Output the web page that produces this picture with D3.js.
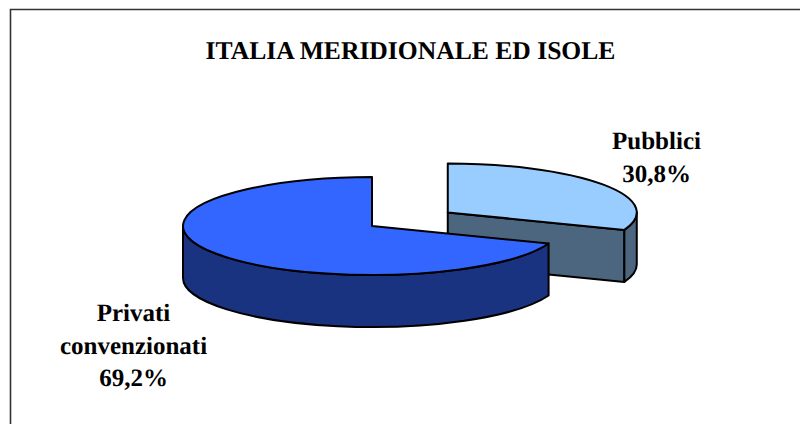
<!DOCTYPE html>
<html><head><meta charset="utf-8">
<script src="https://cdn.jsdelivr.net/npm/d3@7/dist/d3.min.js"></script>
<style>html,body{margin:0;padding:0;background:#fff;overflow:hidden}svg{display:block}</style>
</head><body><svg id="c" width="800" height="424"></svg>
<script>
const titleText = "ITALIA MERIDIONALE ED ISOLE";
const categories = ["Pubblici", "Privati convenzionati"];
const values = [30.8, 69.2];
const topColors = ["#99ccff", "#3366ff"];
const sideColors = ["#4d6680", "#1a3380"];
const labelLines = [["Pubblici", "30,8%"], ["Privati", "convenzionati", "69,2%"]];

const svg = d3.select("#c");
const cx = 372, cy = 226, rx = 189, ry = 49, depth = 52, explode = 92;
const outline = "#000", sw = 2;
const font = "'Liberation Serif','Times New Roman',serif";

svg.append("path").attr("d", "M10.5,424V9.5H800").attr("fill","none").attr("stroke","#333").attr("stroke-width",1.6);

const pie = d3.pie().sort(null).value(d => d);
const arcs = pie(values);

function pt(a, c) { return [c[0] + rx * Math.sin(a), c[1] - ry * Math.cos(a)]; }
function center(d, i) {
  if (i !== 0) return [cx, cy];
  const m = (d.startAngle + d.endAngle) / 2;
  return [cx + explode * Math.sin(m), cy - explode * (ry / rx) * Math.cos(m)];
}
function topPath(d, c) {
  const s = pt(d.startAngle, c), e = pt(d.endAngle, c);
  const large = d.endAngle - d.startAngle > Math.PI ? 1 : 0;
  return `M${c[0]},${c[1]}L${s[0]},${s[1]}A${rx},${ry} 0 ${large} 1 ${e[0]},${e[1]}Z`;
}
function rimPath(a0, a1, c) {
  const s = pt(a0, c), e = pt(a1, c);
  const large = a1 - a0 > Math.PI ? 1 : 0;
  return `M${s[0]},${s[1]}A${rx},${ry} 0 ${large} 1 ${e[0]},${e[1]}L${e[0]},${e[1]+depth}A${rx},${ry} 0 ${large} 0 ${s[0]},${s[1]+depth}Z`;
}
function wallPath(a, c) {
  const e = pt(a, c);
  return `M${c[0]},${c[1]}L${e[0]},${e[1]}L${e[0]},${e[1]+depth}L${c[0]},${c[1]+depth}Z`;
}
const style = (s, fill) => s.attr("fill", fill).attr("stroke", outline).attr("stroke-width", sw).attr("stroke-linejoin","round");

{
  const d = arcs[0], c = center(d, 0);
  style(svg.append("path").attr("d", wallPath(d.endAngle, c)), sideColors[0]);
  style(svg.append("path").attr("d", rimPath(Math.PI/2, d.endAngle, c)), sideColors[0]);
  style(svg.append("path").attr("d", topPath(d, c)), topColors[0]);
}
{
  const d = arcs[1], c = center(d, 1);
  style(svg.append("path").attr("d", rimPath(d.startAngle, Math.PI*1.5, c)), sideColors[1]);
  style(svg.append("path").attr("d", topPath(d, c)), topColors[1]);
}

const text = (x, y, s, size) => svg.append("text").attr("x", x).attr("y", y).attr("text-anchor","middle")
  .attr("font-family", font).attr("font-weight","bold").attr("font-size", size).attr("fill","#000")
  .attr("text-rendering","geometricPrecision").text(s);
text(410.5, 59, titleText, 25.6);
labelLines[0].forEach((s, i) => text(656.5, 149 + i * 32.5, s, 25));
labelLines[1].forEach((s, i) => text(133.5, 321 + i * 32.5, s, 25));
</script></body></html>
